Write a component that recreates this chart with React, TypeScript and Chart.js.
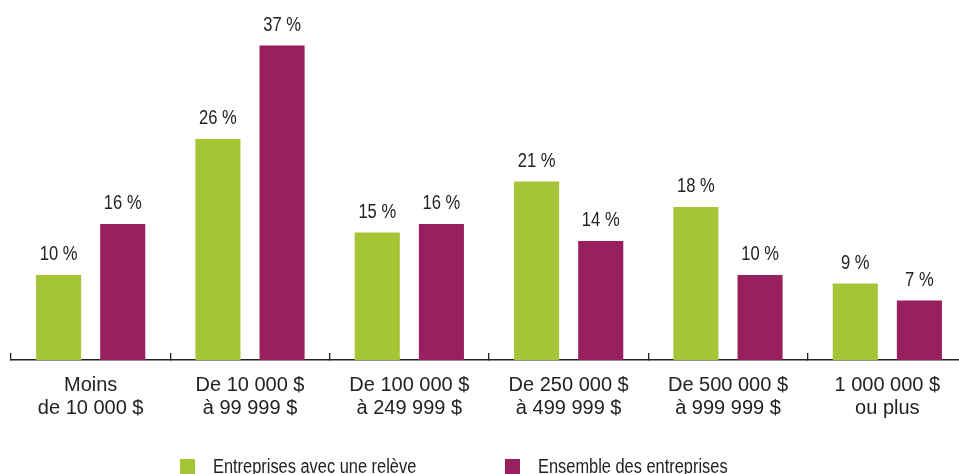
import React, { useEffect, useRef } from "react";
import { Chart, registerables } from "chart.js";

Chart.register(...registerables);

const categories: string[][] = [
  ["Moins", "de 10 000 $"],
  ["De 10 000 $", "à 99 999 $"],
  ["De 100 000 $", "à 249 999 $"],
  ["De 250 000 $", "à 499 999 $"],
  ["De 500 000 $", "à 999 999 $"],
  ["1 000 000 $", "ou plus"],
];
const releve = [10, 26, 15, 21, 18, 9];
const ensemble = [16, 37, 16, 14, 10, 7];
const seriesNames = ["Entreprises avec une relève", "Ensemble des entreprises"];
const colors = ["#a5c436", "#991f5e"];

const SANS = '"Liberation Sans", Arial, sans-serif';

const valueLabels = {
  id: "valueLabels",
  afterDatasetsDraw(chart: any) {
    const ctx = chart.ctx;
    const sx = 0.85;
    ctx.save();
    ctx.font = `19.5px ${SANS}`;
    ctx.fillStyle = "#222222";
    ctx.textAlign = "center";
    ctx.textBaseline = "middle";
    chart.data.datasets.forEach((ds: any, di: number) => {
      const meta = chart.getDatasetMeta(di);
      meta.data.forEach((bar: any, i: number) => {
        ctx.save();
        ctx.translate(bar.x, bar.y - 20);
        ctx.scale(sx, 1);
        ctx.fillText(`${ds.data[i]} %`, 0, 0);
        ctx.restore();
      });
    });
    ctx.restore();
  },
};

const customLegend = {
  id: "customLegend",
  afterDraw(chart: any) {
    const ctx = chart.ctx;
    const starts = [180, 505];
    ctx.save();
    ctx.font = `20px ${SANS}`;
    ctx.textBaseline = "alphabetic";
    ctx.textAlign = "left";
    chart.data.datasets.forEach((ds: any, di: number) => {
      const x = starts[di];
      ctx.fillStyle = ds.backgroundColor;
      ctx.fillRect(x, 459, 15, 15);
      ctx.fillStyle = "#222222";
      ctx.save();
      ctx.translate(x + 33, 472.5);
      ctx.scale(0.82, 1);
      ctx.fillText(ds.label, 0, 0);
      ctx.restore();
    });
    ctx.restore();
  },
};

export default function App() {
  const ref = useRef<HTMLCanvasElement>(null);
  useEffect(() => {
    if (!ref.current) return;
    const chart = new Chart(ref.current, {
      type: "bar",
      data: {
        labels: categories,
        datasets: [
          { label: seriesNames[0], data: releve, backgroundColor: colors[0] },
          { label: seriesNames[1], data: ensemble, backgroundColor: colors[1] },
        ],
      },
      options: {
        responsive: false,
        animation: false,
        layout: { padding: { left: 11, right: 3, top: 20, bottom: 0 } },
        datasets: {
          bar: { categoryPercentage: 0.805, barPercentage: 0.703 },
        },
        plugins: {
          legend: { display: false },
          tooltip: { enabled: false },
        },
        scales: {
          x: {
            type: "category",
            offset: true,
            grid: {
              offset: true,
              drawOnChartArea: false,
              drawTicks: true,
              tickLength: -7,
              color: "#222222",
              lineWidth: 1.3,
            },
            border: { display: true, color: "#222222", width: 1.5 },
            ticks: {
              color: "#222222",
              font: { family: SANS, size: 20, lineHeight: 1.15 },
              padding: 21,
              maxRotation: 0,
              autoSkip: false,
            },
            afterFit(scale: any) {
              scale.height = 114;
            },
          },
          y: {
            display: false,
            min: 0,
            max: 40,
          },
        },
      },
      plugins: [valueLabels, customLegend],
    });
    return () => chart.destroy();
  }, []);

  return (
    <div
      style={{
        position: "fixed",
        left: 0,
        top: 0,
        width: 959,
        height: 474,
        overflow: "hidden",
        background: "#ffffff",
      }}
    >
      <canvas ref={ref} width={970} height={474} style={{ display: "block", width: 970, height: 474 }} />
    </div>
  );
}
